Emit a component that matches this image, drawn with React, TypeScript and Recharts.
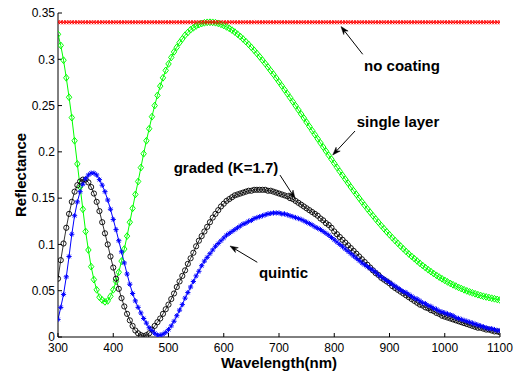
import React from 'react';
import { LineChart, Line, XAxis, YAxis, ReferenceLine, ReferenceDot } from 'recharts';

const FONT = "'Liberation Sans', Arial, Helvetica, sans-serif";

const wavelengths = [
  300, 305, 310, 315, 320, 325, 330, 335, 340, 345,
  350, 355, 360, 365, 370, 375, 380, 385, 390, 395,
  400, 405, 410, 415, 420, 425, 430, 435, 440, 445,
  450, 455, 460, 465, 470, 475, 480, 485, 490, 495,
  500, 505, 510, 515, 520, 525, 530, 535, 540, 545,
  550, 555, 560, 565, 570, 575, 580, 585, 590, 595,
  600, 605, 610, 615, 620, 625, 630, 635, 640, 645,
  650, 655, 660, 665, 670, 675, 680, 685, 690, 695,
  700, 705, 710, 715, 720, 725, 730, 735, 740, 745,
  750, 755, 760, 765, 770, 775, 780, 785, 790, 795,
  800, 805, 810, 815, 820, 825, 830, 835, 840, 845,
  850, 855, 860, 865, 870, 875, 880, 885, 890, 895,
  900, 905, 910, 915, 920, 925, 930, 935, 940, 945,
  950, 955, 960, 965, 970, 975, 980, 985, 990, 995,
  1000, 1005, 1010, 1015, 1020, 1025, 1030, 1035, 1040, 1045,
  1050, 1055, 1060, 1065, 1070, 1075, 1080, 1085, 1090, 1095,
  1100,
];

const noCoating = [
  0.34, 0.34, 0.34, 0.34, 0.34, 0.34, 0.34, 0.34, 0.34, 0.34,
  0.34, 0.34, 0.34, 0.34, 0.34, 0.34, 0.34, 0.34, 0.34, 0.34,
  0.34, 0.34, 0.34, 0.34, 0.34, 0.34, 0.34, 0.34, 0.34, 0.34,
  0.34, 0.34, 0.34, 0.34, 0.34, 0.34, 0.34, 0.34, 0.34, 0.34,
  0.34, 0.34, 0.34, 0.34, 0.34, 0.34, 0.34, 0.34, 0.34, 0.34,
  0.34, 0.34, 0.34, 0.34, 0.34, 0.34, 0.34, 0.34, 0.34, 0.34,
  0.34, 0.34, 0.34, 0.34, 0.34, 0.34, 0.34, 0.34, 0.34, 0.34,
  0.34, 0.34, 0.34, 0.34, 0.34, 0.34, 0.34, 0.34, 0.34, 0.34,
  0.34, 0.34, 0.34, 0.34, 0.34, 0.34, 0.34, 0.34, 0.34, 0.34,
  0.34, 0.34, 0.34, 0.34, 0.34, 0.34, 0.34, 0.34, 0.34, 0.34,
  0.34, 0.34, 0.34, 0.34, 0.34, 0.34, 0.34, 0.34, 0.34, 0.34,
  0.34, 0.34, 0.34, 0.34, 0.34, 0.34, 0.34, 0.34, 0.34, 0.34,
  0.34, 0.34, 0.34, 0.34, 0.34, 0.34, 0.34, 0.34, 0.34, 0.34,
  0.34, 0.34, 0.34, 0.34, 0.34, 0.34, 0.34, 0.34, 0.34, 0.34,
  0.34, 0.34, 0.34, 0.34, 0.34, 0.34, 0.34, 0.34, 0.34, 0.34,
  0.34, 0.34, 0.34, 0.34, 0.34, 0.34, 0.34, 0.34, 0.34, 0.34,
  0.34,
];

const singleLayer = [
  0.327, 0.315, 0.299, 0.280, 0.259, 0.237, 0.212, 0.187, 0.162, 0.138,
  0.114, 0.094, 0.076, 0.062, 0.051, 0.043, 0.040, 0.038, 0.039, 0.044,
  0.051, 0.060, 0.070, 0.082, 0.095, 0.109, 0.124, 0.139, 0.154, 0.168,
  0.183, 0.198, 0.212, 0.225, 0.238, 0.250, 0.261, 0.271, 0.280, 0.288,
  0.295, 0.302, 0.308, 0.313, 0.318, 0.322, 0.326, 0.329, 0.332, 0.334,
  0.336, 0.3375, 0.3386, 0.3394, 0.3399, 0.340, 0.3399, 0.3395, 0.3388, 0.3378,
  0.3365, 0.335, 0.3334, 0.3315, 0.3294, 0.3271, 0.3246, 0.3219, 0.3191, 0.3161,
  0.3129, 0.3097, 0.3063, 0.3028, 0.2991, 0.2954, 0.2916, 0.2877, 0.2838, 0.2797,
  0.2756, 0.2714, 0.2671, 0.2629, 0.2586, 0.2542, 0.2498, 0.2454, 0.2409, 0.2365,
  0.2320, 0.2275, 0.2230, 0.2186, 0.2141, 0.2097, 0.2052, 0.2008, 0.1963, 0.1920,
  0.1876, 0.1832, 0.1789, 0.1746, 0.1704, 0.1662, 0.1620, 0.1580, 0.1540, 0.1500,
  0.1461, 0.1422, 0.1384, 0.1347, 0.1310, 0.1274, 0.1239, 0.1204, 0.1170, 0.1137,
  0.1105, 0.1073, 0.1042, 0.1012, 0.0982, 0.0953, 0.0924, 0.0897, 0.0871, 0.0846,
  0.0821, 0.0796, 0.0772, 0.0749, 0.0727, 0.0706, 0.0685, 0.0666, 0.0647, 0.0629,
  0.0612, 0.0595, 0.0579, 0.0564, 0.0550, 0.0536, 0.0523, 0.0510, 0.0498, 0.0487,
  0.0477, 0.0467, 0.0457, 0.0448, 0.0440, 0.0433, 0.0426, 0.0419, 0.0413, 0.0406,
  0.0400,
];

const graded = [
  0.063, 0.083, 0.101, 0.118, 0.133, 0.146, 0.157, 0.164, 0.168, 0.170,
  0.170, 0.167, 0.162, 0.155, 0.146, 0.136, 0.124, 0.112, 0.100, 0.087,
  0.075, 0.063, 0.052, 0.042, 0.033, 0.025, 0.018, 0.012, 0.007, 0.004,
  0.002, 0.001, 0.002, 0.004, 0.008, 0.012, 0.016, 0.020, 0.025, 0.030,
  0.035, 0.041, 0.047, 0.054, 0.060, 0.066, 0.072, 0.079, 0.085, 0.091,
  0.098, 0.104, 0.109, 0.114, 0.119, 0.124, 0.129, 0.133, 0.137, 0.141,
  0.144, 0.147, 0.149, 0.151, 0.153, 0.154, 0.155, 0.156, 0.157, 0.158,
  0.158, 0.159, 0.159, 0.159, 0.159, 0.159, 0.158, 0.158, 0.157, 0.156,
  0.155, 0.154, 0.153, 0.152, 0.150, 0.149, 0.147, 0.145, 0.143, 0.141,
  0.139, 0.137, 0.135, 0.133, 0.131, 0.128, 0.126, 0.123, 0.121, 0.118,
  0.114, 0.111, 0.108, 0.105, 0.102, 0.099, 0.096, 0.093, 0.090, 0.087,
  0.084, 0.081, 0.078, 0.075, 0.072, 0.069, 0.067, 0.064, 0.062, 0.060,
  0.058, 0.055, 0.053, 0.051, 0.049, 0.047, 0.045, 0.043, 0.041, 0.039,
  0.037, 0.035, 0.034, 0.032, 0.031, 0.029, 0.028, 0.026, 0.025, 0.023,
  0.022, 0.021, 0.020, 0.019, 0.018, 0.017, 0.016, 0.015, 0.014, 0.013,
  0.012, 0.011, 0.010, 0.010, 0.009, 0.008, 0.008, 0.007, 0.006, 0.006,
  0.005,
];

const quintic = [
  0.019, 0.032, 0.046, 0.065, 0.087, 0.111, 0.131, 0.146, 0.157, 0.165,
  0.171, 0.175, 0.177, 0.177, 0.175, 0.170, 0.164, 0.157, 0.148, 0.138,
  0.127, 0.116, 0.104, 0.092, 0.080, 0.068, 0.057, 0.047, 0.039, 0.032,
  0.026, 0.020, 0.015, 0.010, 0.007, 0.004, 0.002, 0.002, 0.003, 0.005,
  0.008, 0.012, 0.017, 0.023, 0.029, 0.035, 0.042, 0.048, 0.054, 0.060,
  0.066, 0.071, 0.077, 0.082, 0.086, 0.090, 0.094, 0.098, 0.101, 0.104,
  0.107, 0.110, 0.112, 0.114, 0.116, 0.118, 0.120, 0.122, 0.123, 0.125,
  0.126, 0.128, 0.129, 0.130, 0.131, 0.132, 0.133, 0.1335, 0.134, 0.134,
  0.134, 0.133, 0.133, 0.132, 0.131, 0.130, 0.129, 0.128, 0.127, 0.1255,
  0.124, 0.1225, 0.121, 0.119, 0.1175, 0.116, 0.114, 0.112, 0.110, 0.1075,
  0.105, 0.1025, 0.100, 0.0975, 0.095, 0.0925, 0.090, 0.0875, 0.085, 0.0825,
  0.080, 0.078, 0.076, 0.074, 0.072, 0.070, 0.067, 0.065, 0.063, 0.061,
  0.059, 0.057, 0.055, 0.053, 0.051, 0.049, 0.048, 0.046, 0.044, 0.042,
  0.041, 0.039, 0.037, 0.036, 0.034, 0.033, 0.031, 0.030, 0.028, 0.027,
  0.026, 0.025, 0.024, 0.023, 0.021, 0.020, 0.019, 0.018, 0.017, 0.016,
  0.015, 0.014, 0.013, 0.012, 0.011, 0.010, 0.009, 0.009, 0.008, 0.007,
  0.007,
];

const xTicks = [300, 400, 500, 600, 700, 800, 900, 1000, 1100];
const yTicks = [0, 0.05, 0.1, 0.15, 0.2, 0.25, 0.3, 0.35];
const yTickLabels = ['0', '0.05', '0.1', '0.15', '0.2', '0.25', '0.3', '0.35'];

// text anchor (data coords, baseline) and arrow tail -> tip (data coords)
const annotations = [
  { text: 'no coating', tx: 922.6, ty: 0.2873, x1: 851.5, y1: 0.3054, x2: 812.2, y2: 0.3354 },
  { text: 'single layer', tx: 915.4, ty: 0.2272, x1: 837.6, y1: 0.2225, x2: 797.2, y2: 0.1966 },
  { text: 'graded (K=1.7)', tx: 604.1, ty: 0.1768, x1: 701.8, y1: 0.1749, x2: 729.0, y2: 0.1498 },
  { text: 'quintic', tx: 708.1, ty: 0.0634, x1: 660.7, y1: 0.0807, x2: 611.3, y2: 0.0983 },
];

const data = wavelengths.map((w, i) => ({
  w,
  nc: noCoating[i],
  sl: singleLayer[i],
  gr: graded[i],
  qu: quintic[i],
}));

const DiamondDot = (props: any) => {
  const { cx, cy, index } = props;
  if (cx == null || cy == null) return <g key={`sd${index}`} />;
  return (
    <path
      key={`sd${index}`}
      d={`M${cx},${cy - 3.4}L${cx + 2.7},${cy}L${cx},${cy + 3.4}L${cx - 2.7},${cy}Z`}
      fill="none"
      stroke="#00ff00"
      strokeWidth={1}
    />
  );
};

const CircleDot = (props: any) => {
  const { cx, cy, index } = props;
  if (cx == null || cy == null) return <g key={`gd${index}`} />;
  return <circle key={`gd${index}`} cx={cx} cy={cy} r={2.6} fill="none" stroke="#000" strokeWidth={0.9} />;
};

const StarDot = (props: any) => {
  const { cx, cy, index } = props;
  if (cx == null || cy == null) return <g key={`qd${index}`} />;
  const a = 2.6;
  const b = 1.8;
  return (
    <path
      key={`qd${index}`}
      d={`M${cx - a},${cy}H${cx + a}M${cx},${cy - a}V${cy + a}M${cx - b},${cy - b}L${cx + b},${cy + b}M${cx - b},${cy + b}L${cx + b},${cy - b}`}
      fill="none"
      stroke="#0000ff"
      strokeWidth={1}
    />
  );
};

const PlusDot = (props: any) => {
  const { cx, cy, index } = props;
  if (cx == null || cy == null) return <g key={`nd${index}`} />;
  const a = 2;
  return (
    <path
      key={`nd${index}`}
      d={`M${cx - a},${cy - a}L${cx + a},${cy + a}M${cx - a},${cy + a}L${cx + a},${cy - a}`}
      fill="none"
      stroke="#ff0000"
      strokeWidth={1}
    />
  );
};

const ArrowShape = (props: any) => {
  const { x1, y1, x2, y2 } = props;
  if ([x1, y1, x2, y2].some((v) => v == null || isNaN(v))) return null;
  const ang = Math.atan2(y2 - y1, x2 - x1);
  const c = Math.cos(ang);
  const s = Math.sin(ang);
  const L = 8;
  const W = 2.8;
  const bx = x2 - L * c;
  const by = y2 - L * s;
  const nx = x2 - L * 0.7 * c;
  const ny = y2 - L * 0.7 * s;
  const p1x = bx - W * s;
  const p1y = by + W * c;
  const p2x = bx + W * s;
  const p2y = by - W * c;
  return (
    <g>
      <line x1={x1} y1={y1} x2={nx} y2={ny} stroke="#000" strokeWidth={1} />
      <path d={`M${x2},${y2}L${p1x},${p1y}L${nx},${ny}L${p2x},${p2y}Z`} fill="#000" stroke="#000" strokeWidth={0.5} />
    </g>
  );
};

const makeTextShape = (text: string) => (props: any) => {
  const { cx, cy } = props;
  if (cx == null || cy == null) return null;
  return (
    <text x={cx} y={cy} textAnchor="middle" fontFamily={FONT} fontSize={15} fontWeight="bold" fill="#000">
      {text}
    </text>
  );
};

const YLabel = (props: any) => {
  const vb = props.viewBox || { x: 0, y: 13, width: 58, height: 324 };
  const x = vb.x + 20;
  const y = vb.y + vb.height / 2;
  return (
    <text
      x={x}
      y={y}
      transform={`rotate(-90 ${x} ${y})`}
      textAnchor="middle"
      dominantBaseline="central"
      fontFamily={FONT}
      fontSize={15}
      fontWeight="bold"
      fill="#000"
    >
      Reflectance
    </text>
  );
};

const XLabel = (props: any) => {
  const vb = props.viewBox || { x: 58, y: 337, width: 442, height: 36 };
  const x = vb.x + vb.width / 2;
  const y = vb.y + 31;
  return (
    <text x={x} y={y} textAnchor="middle" fontFamily={FONT} fontSize={15} fontWeight="bold" fill="#000">
      Wavelength(nm)
    </text>
  );
};

const fmtY = (v: number) => {
  const i = yTicks.findIndex((t) => Math.abs(t - v) < 1e-9);
  return i >= 0 ? yTickLabels[i] : String(v);
};

export default function App() {
  return (
    <div style={{ position: 'absolute', left: 0, top: 0, background: '#fff' }}>
      <LineChart width={521} height={373} data={data} margin={{ top: 13, right: 21, bottom: 0, left: 0 }}>
        <XAxis
          xAxisId="b"
          dataKey="w"
          type="number"
          domain={[300, 1100]}
          ticks={xTicks}
          allowDataOverflow
          height={36}
          stroke="#000"
          tickSize={-4}
          tickMargin={10}
          tick={{ fill: '#000', fontSize: 12, fontFamily: FONT }}
          label={XLabel}
        />
        <XAxis
          xAxisId="t"
          dataKey="w"
          orientation="top"
          type="number"
          domain={[300, 1100]}
          ticks={xTicks}
          allowDataOverflow
          height={0}
          stroke="#000"
          tickSize={-4}
          tick={false}
        />
        <YAxis
          yAxisId="l"
          type="number"
          domain={[0, 0.35]}
          ticks={yTicks}
          allowDataOverflow
          width={58}
          stroke="#000"
          tickSize={-4}
          tickMargin={7}
          tickFormatter={fmtY}
          tick={{ fill: '#000', fontSize: 12, fontFamily: FONT }}
          label={YLabel}
        />
        <YAxis
          yAxisId="r"
          orientation="right"
          type="number"
          domain={[0, 0.35]}
          ticks={yTicks}
          allowDataOverflow
          width={0}
          stroke="#000"
          tickSize={-4}
          tick={false}
        />
        <Line
          xAxisId="b"
          yAxisId="l"
          dataKey="sl"
          type="linear"
          stroke="#00ff00"
          strokeWidth={1}
          dot={DiamondDot}
          activeDot={false}
          isAnimationActive={false}
        />
        <Line
          xAxisId="b"
          yAxisId="l"
          dataKey="gr"
          type="linear"
          stroke="#000"
          strokeWidth={0.8}
          dot={CircleDot}
          activeDot={false}
          isAnimationActive={false}
        />
        <Line
          xAxisId="b"
          yAxisId="l"
          dataKey="qu"
          type="linear"
          stroke="#0000ff"
          strokeWidth={1}
          dot={StarDot}
          activeDot={false}
          isAnimationActive={false}
        />
        <Line
          xAxisId="b"
          yAxisId="l"
          dataKey="nc"
          type="linear"
          stroke="#ff0000"
          strokeWidth={1}
          dot={PlusDot}
          activeDot={false}
          isAnimationActive={false}
        />
        {annotations.map((a) => (
          <ReferenceLine
            key={`al-${a.text}`}
            xAxisId="b"
            yAxisId="l"
            segment={[
              { x: a.x1, y: a.y1 },
              { x: a.x2, y: a.y2 },
            ]}
            ifOverflow="visible"
            shape={ArrowShape}
          />
        ))}
        {annotations.map((a) => (
          <ReferenceDot
            key={`at-${a.text}`}
            xAxisId="b"
            yAxisId="l"
            x={a.tx}
            y={a.ty}
            r={1}
            ifOverflow="visible"
            shape={makeTextShape(a.text)}
          />
        ))}
      </LineChart>
    </div>
  );
}
